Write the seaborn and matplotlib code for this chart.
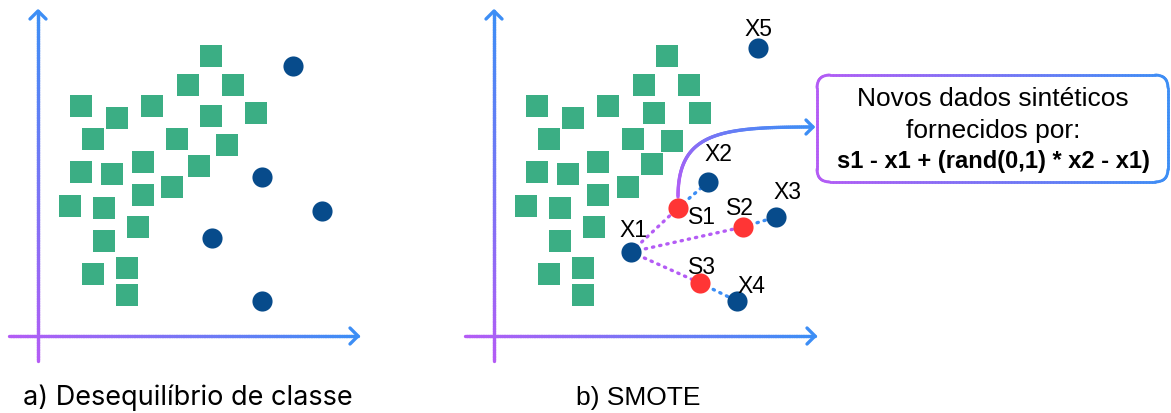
import numpy as np
import matplotlib
matplotlib.use("Agg")
import matplotlib.pyplot as plt
import seaborn as sns
import pandas as pd
from matplotlib.collections import LineCollection
from matplotlib.colors import LinearSegmentedColormap
from matplotlib.patches import FancyBboxPatch

# dados do painel a) (coordenadas em pixels da imagem)
maj_a_x = [211, 188, 233, 81, 117, 152, 211, 256, 93, 177, 227, 81, 112, 143, 199, 172, 143, 70, 104, 138, 104, 93, 127, 127]
maj_a_y = [57, 86, 86, 107, 119, 107, 117, 114, 140, 140, 146, 173, 175, 163, 167, 188, 196, 207, 209, 228, 242, 275, 269, 296]
min_a_x = [293, 262, 322, 212, 262]
min_a_y = [67, 178, 212, 239, 302]

# dados do painel b) SMOTE
maj_b_x = [667, 644, 689, 537, 573, 608, 654, 700, 549, 633, 672, 537, 568, 598, 652, 628, 598, 526, 560, 594, 560, 549, 583, 583]
maj_b_y = [57, 86, 86, 107, 119, 107, 114, 114, 140, 140, 142, 173, 175, 163, 165, 188, 196, 207, 209, 228, 242, 275, 269, 296]
min_b_nomes = ["X1", "X2", "X3", "X4", "X5"]
min_b_x = [631, 708, 776, 737, 758]
min_b_y = [253, 183, 218, 302, 49]
sint_nomes = ["S1", "S2", "S3"]
sint_x = [678, 743, 700]
sint_y = [209, 228, 284]
vizinhos = ["X2", "X3", "X4"]

VERDE = "#3bae84"
AZUL_ESC = "#074b8b"
VERMELHO = "#ff3535"
ROXO = "#b45cf5"
AZUL = "#3d8ef5"
grad = LinearSegmentedColormap.from_list("g", [ROXO, AZUL])

W, H = 1171, 414
fig = plt.figure(figsize=(W / 100, H / 100), dpi=100)
ax = fig.add_axes([0, 0, 1, 1])
ax.set_xlim(0, W)
ax.set_ylim(H, 0)
ax.axis("off")


def linha_grad(xs, ys, c0, c1, lw=2.4, z=1):
    pts = np.column_stack([xs, ys]).reshape(-1, 1, 2)
    segs = np.concatenate([pts[:-1], pts[1:]], axis=1)
    t = np.linspace(0, 1, len(segs))
    cm = LinearSegmentedColormap.from_list("x", [c0, c1])
    lc = LineCollection(segs, colors=cm(t), linewidths=lw, capstyle="round", zorder=z)
    ax.add_collection(lc)


def seta(xt, yt, direcao, cor=AZUL, s=8):
    if direcao == "cima":
        ax.plot([xt - s, xt, xt + s], [yt + s, yt, yt + s], color=cor, lw=2.4, solid_capstyle="round", solid_joinstyle="round")
    else:
        ax.plot([xt - s, xt, xt - s], [yt - s, yt, yt + s], color=cor, lw=2.4, solid_capstyle="round", solid_joinstyle="round")


# eixos dos dois paineis
for x0, xa, xb in [(38, 9, 358), (494, 465, 815)]:
    yy = np.linspace(362, 12, 200)
    linha_grad(np.full_like(yy, x0), yy, ROXO, AZUL)
    seta(x0, 12, "cima")
    xx = np.linspace(xa, xb, 200)
    linha_grad(xx, np.full_like(xx, 337), ROXO, AZUL)
    seta(xb, 337, "direita")

# linhas pontilhadas X1 -> S -> vizinho
x1, y1 = min_b_x[0], min_b_y[0]
for sx, sy, v in zip(sint_x, sint_y, vizinhos):
    i = min_b_nomes.index(v)
    ax.plot([x1, sx], [y1, sy], color=ROXO, lw=2.4, ls=(0, (0.4, 1.8)), dash_capstyle="round", zorder=2)
    ax.plot([sx, min_b_x[i]], [sy, min_b_y[i]], color=AZUL, lw=2.4, ls=(0, (0.4, 1.8)), dash_capstyle="round", zorder=2)

# pontos
maj = pd.DataFrame({"x": maj_a_x + maj_b_x, "y": maj_a_y + maj_b_y})
mino = pd.DataFrame({"x": min_a_x + min_b_x, "y": min_a_y + min_b_y})
sint = pd.DataFrame({"x": sint_x, "y": sint_y})
sns.scatterplot(data=maj, x="x", y="y", marker="s", s=250, color=VERDE, linewidth=0, ax=ax, zorder=3)
sns.scatterplot(data=mino, x="x", y="y", marker="o", s=210, color=AZUL_ESC, linewidth=0, ax=ax, zorder=4)
sns.scatterplot(data=sint, x="x", y="y", marker="o", s=210, color=VERMELHO, linewidth=0, ax=ax, zorder=4)
ax.set_xlim(0, W)
ax.set_ylim(H, 0)

# rotulos dos pontos
lab_fs = 16.5
rot = {"X5": (758, 29), "X2": (718, 155), "X3": (787, 193), "X1": (633, 231), "X4": (751, 287),
       "S1": (702, 218), "S2": (740, 209), "S3": (702, 268)}
for k, (lx, ly) in rot.items():
    ax.text(lx, ly, k, fontsize=lab_fs, family="Liberation Sans", ha="center", va="center", zorder=5)

# curva ate a caixa
t = np.linspace(0, 1, 120)[:, None]
P = np.array([[678, 198], [678, 133], [720, 128], [813, 128]], float)
curva = ((1 - t) ** 3) * P[0] + 3 * ((1 - t) ** 2) * t * P[1] + 3 * (1 - t) * t ** 2 * P[2] + t ** 3 * P[3]
linha_grad(curva[:, 0], curva[:, 1], ROXO, AZUL, lw=2.4)
seta(813, 128, "direita", s=7)

# caixa com borda em gradiente
bx0, by0, bx1, by1 = 817, 76, 1168, 183
caixa = FancyBboxPatch((bx0, by0), bx1 - bx0, by1 - by0, boxstyle="round,pad=0,rounding_size=13")
verts = caixa.get_path().to_polygons()[0]
dens = []
for a, b in zip(verts[:-1], verts[1:]):
    n = max(2, int(np.hypot(*(b - a)) / 3))
    dens.append(np.linspace(a, b, n, endpoint=False))
dens = np.vstack(dens + [verts[:1]])
segs = np.stack([dens[:-1], dens[1:]], axis=1)
cx = (segs[:, 0, 0] + segs[:, 1, 0]) / 2
ax.add_collection(LineCollection(segs, colors=grad((cx - bx0) / (bx1 - bx0)), linewidths=2.0, capstyle="round"))

ax.text(993, 99, "Novos dados sintéticos", fontsize=19, family="Liberation Sans", ha="center", va="center")
ax.text(993, 131, "fornecidos por:", fontsize=19, family="Liberation Sans", ha="center", va="center")
ax.text(993, 162, "s1 - x1 + (rand(0,1) * x2 - x1)", fontsize=17, family="Liberation Sans",
        fontweight="bold", ha="center", va="center")

# legendas dos paineis
ax.text(188, 398, "a) Desequilíbrio de classe", fontsize=19.5, family="Inter", ha="center", va="center")
ax.text(638, 398, "b) SMOTE", fontsize=19, family="Liberation Sans", ha="center", va="center")

fig.savefig("out.png", dpi=100)
